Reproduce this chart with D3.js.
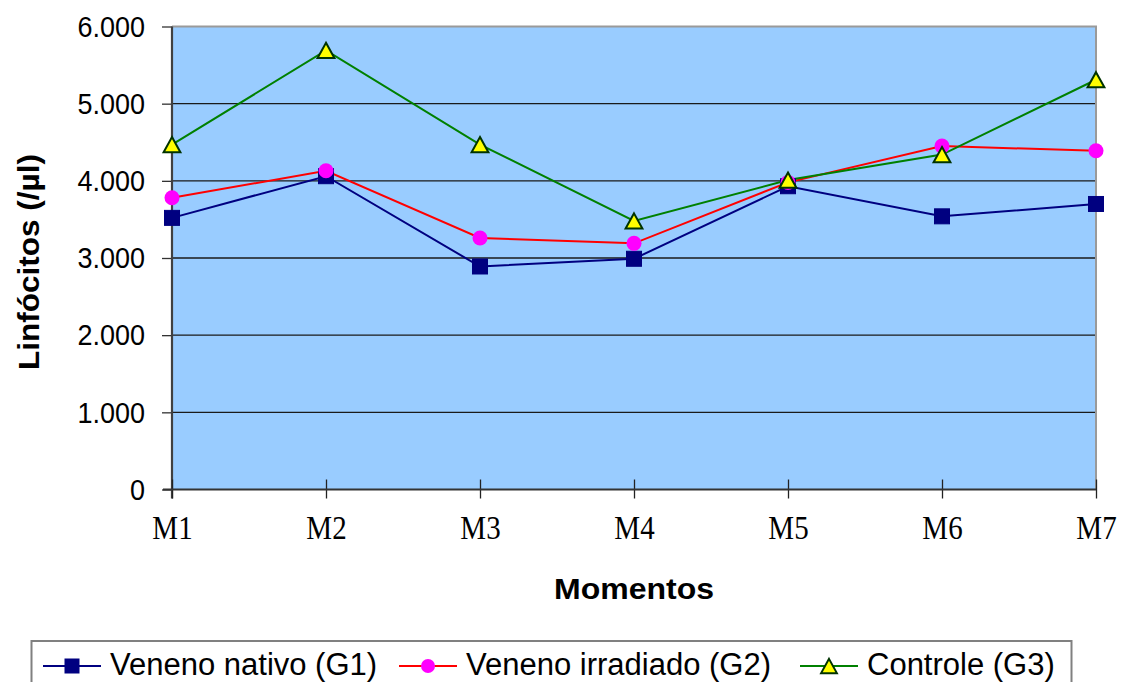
<!DOCTYPE html>
<html>
<head>
<meta charset="utf-8">
<script src="https://cdn.jsdelivr.net/npm/d3@7"></script>
<style>
  html, body { margin: 0; padding: 0; background: #ffffff; }
  svg { display: block; }
</style>
</head>
<body>
<svg id="chart" width="1125" height="682"></svg>
<script>
// Lymphocyte counts (/µl) per moment, for each group
const categories = ["M1", "M2", "M3", "M4", "M5", "M6", "M7"];
const nativo     = [3520, 4060, 2890, 2990, 3930, 3540, 3700];
const irradiado  = [3780, 4130, 3260, 3190, 3980, 4450, 4390];
const controle   = [4470, 5690, 4470, 3480, 4010, 4340, 5310];
const yTicks     = [0, 1000, 2000, 3000, 4000, 5000, 6000];
const yTickLabels = ["0", "1.000", "2.000", "3.000", "4.000", "5.000", "6.000"];

const seriesList = [
  { name: "Veneno nativo (G1)",    values: nativo,    line: "#000080", marker: "square" },
  { name: "Veneno irradiado (G2)", values: irradiado, line: "#ff0000", marker: "circle" },
  { name: "Controle (G3)",         values: controle,  line: "#008000", marker: "triangle" }
];

const svg = d3.select("#chart");
const plot = { left: 172, right: 1096, top: 26.5, bottom: 489.5 };

const x = d3.scalePoint().domain(categories).range([plot.left, plot.right]).padding(0);
const y = d3.scaleLinear().domain([0, 6000]).range([plot.bottom, plot.top]);

// Plot background
svg.append("rect")
  .attr("x", plot.left).attr("y", plot.top)
  .attr("width", plot.right - plot.left).attr("height", plot.bottom - plot.top)
  .attr("fill", "#99ccff");

// Horizontal gridlines
svg.append("g")
  .selectAll("line")
  .data(yTicks.filter(d => d > 0 && d < 6000))
  .join("line")
  .attr("x1", plot.left).attr("x2", plot.right)
  .attr("y1", d => y(d)).attr("y2", d => y(d))
  .attr("stroke", "#1a1a1a").attr("stroke-width", 1.3);

// Top and right frame
svg.append("path")
  .attr("d", `M${plot.left},${plot.top}H${plot.right}V${plot.bottom}`)
  .attr("fill", "none").attr("stroke", "#9a9a9a").attr("stroke-width", 2);

// Y axis
const yAxis = d3.axisLeft(y)
  .tickValues(yTicks)
  .tickFormat((d, i) => yTickLabels[i])
  .tickSize(10)
  .tickPadding(17);
const gy = svg.append("g").attr("transform", `translate(${plot.left},0)`).call(yAxis);
gy.select(".domain").remove();
gy.selectAll(".tick line").attr("stroke", "#333").attr("stroke-width", 1.3);
gy.selectAll(".tick text")
  .attr("font-family", "Liberation Sans, Arial, sans-serif")
  .attr("font-size", 27)
  .attr("fill", "#000")
  .attr("transform", "scale(1,1.12)");
svg.append("line")
  .attr("x1", plot.left).attr("x2", plot.left)
  .attr("y1", plot.top).attr("y2", plot.bottom + 9)
  .attr("stroke", "#404040").attr("stroke-width", 2.2);

// X axis
const xAxis = d3.axisBottom(x).tickSize(0).tickPadding(0);
const gx = svg.append("g").attr("transform", `translate(0,${plot.bottom})`).call(xAxis);
gx.select(".domain").remove();
gx.selectAll(".tick line").remove();
gx.selectAll(".tick")
  .append("line")
  .attr("y1", -10).attr("y2", 9)
  .attr("stroke", "#222").attr("stroke-width", 1.3);
gx.selectAll(".tick text")
  .attr("font-family", "Liberation Serif, Times New Roman, serif")
  .attr("font-size", 29)
  .attr("fill", "#000")
  .attr("dy", null)
  .attr("y", 43)
  .attr("transform", "scale(1,1.15)");
svg.append("line")
  .attr("x1", plot.left - 9).attr("x2", plot.right)
  .attr("y1", plot.bottom).attr("y2", plot.bottom)
  .attr("stroke", "#333").attr("stroke-width", 2);

// Axis titles
svg.append("text")
  .attr("x", 634).attr("y", 599)
  .attr("text-anchor", "middle")
  .attr("font-family", "Liberation Sans, Arial, sans-serif")
  .attr("font-weight", "bold").attr("font-size", 29)
  .attr("textLength", 160).attr("lengthAdjust", "spacingAndGlyphs")
  .text("Momentos");

svg.append("text")
  .attr("transform", `translate(39,262) rotate(-90)`)
  .attr("text-anchor", "middle")
  .attr("font-family", "Liberation Sans, Arial, sans-serif")
  .attr("font-weight", "bold").attr("font-size", 30)
  .attr("textLength", 216).attr("lengthAdjust", "spacingAndGlyphs")
  .text("Linfócitos (/µl)");

// Marker drawing helper
function drawMarker(sel, type, size) {
  if (type === "square") {
    sel.append("rect")
      .attr("x", -size / 2).attr("y", -size / 2)
      .attr("width", size).attr("height", size)
      .attr("fill", "#000080").attr("stroke", "#000080").attr("stroke-width", 1);
  } else if (type === "circle") {
    sel.append("circle").attr("r", size / 2)
      .attr("fill", "#ff00ff");
  } else {
    const h = size * 0.95, w = size * 1.05;
    sel.append("path")
      .attr("d", `M0,${-h / 2}L${w / 2},${h / 2}L${-w / 2},${h / 2}Z`)
      .attr("fill", "#ffff00").attr("stroke", "#003300").attr("stroke-width", 2);
  }
}

// Series lines and markers
const line = d3.line().x((d, i) => x(categories[i])).y(d => y(d));
seriesList.forEach(s => {
  svg.append("path")
    .datum(s.values)
    .attr("d", line)
    .attr("fill", "none")
    .attr("stroke", s.line)
    .attr("stroke-width", 2);
});
seriesList.forEach(s => {
  svg.append("g")
    .selectAll("g")
    .data(s.values)
    .join("g")
    .attr("transform", (d, i) => `translate(${x(categories[i])},${y(d)})`)
    .each(function () { drawMarker(d3.select(this), s.marker, s.marker === "triangle" ? 16 : 15); });
});

// Legend
const legend = svg.append("g");
legend.append("rect")
  .attr("x", 31.5).attr("y", 641)
  .attr("width", 1040).attr("height", 80)
  .attr("fill", "#fff").attr("stroke", "#808080").attr("stroke-width", 2);

const legendX = [43, 399, 800];
seriesList.forEach((s, i) => {
  const g = legend.append("g").attr("transform", `translate(${legendX[i]},0)`);
  g.append("line")
    .attr("x1", 0).attr("x2", 58)
    .attr("y1", 666).attr("y2", 666)
    .attr("stroke", s.line).attr("stroke-width", 2);
  const m = g.append("g").attr("transform", "translate(29,666)");
  drawMarker(m, s.marker, s.marker === "triangle" ? 15 : 14);
  g.append("text")
    .attr("x", 67).attr("y", 675)
    .attr("font-family", "Liberation Sans, Arial, sans-serif")
    .attr("font-size", 31)
    .attr("fill", "#000")
    .text(s.name);
});
</script>
</body>
</html>
